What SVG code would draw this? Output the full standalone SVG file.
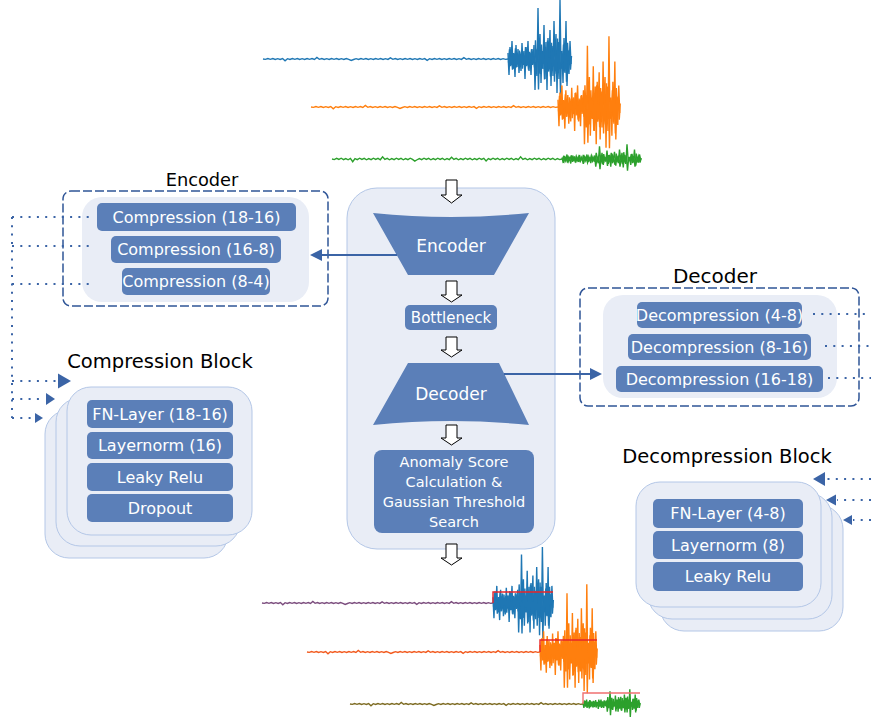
<svg xmlns="http://www.w3.org/2000/svg" xmlns:xlink="http://www.w3.org/1999/xlink" width="871" height="720" viewBox="0 0 871 720">
<style>
.panel{fill:#e9edf6;stroke:#b4c7e7;stroke-width:1}
.inner{fill:#e9edf6}
.box{fill:#5b7fb8}
.wt{fill:#fff;font-family:"DejaVu Sans",sans-serif;font-size:16px;text-anchor:middle}
.lbl{fill:#000;font-family:"DejaVu Sans",sans-serif;text-anchor:middle}
.dash{fill:none;stroke:#2f5597;stroke-width:1.5;stroke-dasharray:9 3}
.dot{fill:none;stroke:#3b64a6;stroke-width:2;stroke-dasharray:2 6.3}
.solid{fill:none;stroke:#3b64a6;stroke-width:2.2}
.head{fill:#3b64a6}
.hollow{fill:#fff;stroke:#000;stroke-width:1}
.wave{fill:none;stroke-width:1.4}
</style>
<defs>
<path id="burst" vector-effect="non-scaling-stroke" fill="none" d="M0,-6 L1,16 2,-12 3,4 4,-18 5,10 6,-2 7,18 8,-14 9,8 10,-10 11,14 12,-4 13,12 14,-16 15,6 16,-8 17,20 18,-12 19,2 20,-18 21,12 22,-6 23,16 24,-10 25,4 26,-14 27,31 28,-4 29,17 30,-51 31,14 32,-25 33,24 34,-8 35,10 36,-34 37,20 38,-17 39,31 40,-21 41,3 42,-29 43,27 44,-13 45,17 46,-38 47,7 48,-25 49,34 50,-17 51,20 52,-59 53,10 54,-8 55,24 56,-21 57,14 58,-38 59,27 60,-3 61,15 62,-18 63,5"/>
<path id="noise" vector-effect="non-scaling-stroke" fill="none" d="M0,0 L1,0.4 2,-0.4 3,0.3 4,-0.5 5,0.4 6,-0.3 7,0.5 8,-0.4 9,1.8 10,-0.3 11,0.4 12,-0.5 13,0.3 14,-0.4 15,0.5 16,-0.3 17,0.4 18,-0.5 19,0.3 20,-0.4 21,0.5 22,-1.5 23,0.3 24,-0.4 25,0.5 26,-0.3 27,0.4 28,-0.5 29,0.3 30,-0.4 31,0.5 32,-0.3 33,0.4 34,-0.5 35,0.3 36,1.4 37,0.5 38,-0.3 39,0.4 40,-0.5 41,0.3 42,-0.4 43,0.5 44,-0.3 45,0.4 46,-0.5 47,0.3 48,-0.4 49,0.5 50,-0.3 51,0.4 52,-1.2 53,0.3 54,-0.4 55,0.5 56,-0.3 57,0.4 58,-0.5 59,0.3 60,-0.4 61,0.5 62,-0.3 63,0.4 64,-0.5 65,0.3 66,-0.4 67,1.3 68,-0.3 69,0.4 70,-0.5 71,0.3 72,-0.4 73,0.5 74,-0.3 75,0.4 76,-0.5 77,0.3 78,-0.4 79,0.5 80,-0.3 81,0.4 82,-1.4 83,0.3 84,-0.4 85,0.5 86,-0.3 87,0.4 88,-0.5 89,0.3 90,-0.4 91,0.5 92,-0.3 93,0.4 94,-0.5 95,0.3 96,-0.4 97,0.5 98,-0.3 99,0.4 100,0"/>
</defs>
<rect width="871" height="720" fill="#fff"/>

<g id="input-signals" class="wave">
<g stroke="#1f77b4">
<use href="#noise" transform="translate(263,59) scale(2.45,1)"/>
<use href="#burst" transform="translate(508,59)"/>
<use href="#burst" transform="translate(508.5,59) scale(1,-0.6)"/>
</g>
<g stroke="#ff7f0e">
<use href="#noise" transform="translate(311,107) scale(2.47,1)"/>
<use href="#burst" transform="translate(558,107) scale(0.98,1.2)"/>
<use href="#burst" transform="translate(558.5,107) scale(0.98,-0.7)"/>
</g>
<g stroke="#2ca02c">
<use href="#noise" transform="translate(332,159) scale(2.3,1.5)"/>
<use href="#burst" transform="translate(562,159) scale(1.25,0.25)"/>
<use href="#burst" transform="translate(562.5,159) scale(1.25,-0.2)"/>
</g>
</g>

<g id="output-signals" class="wave">
<use href="#noise" stroke="#7b4c7d" transform="translate(262,603) scale(2.31,1)"/>
<g stroke="#1f77b4">
<use href="#burst" transform="translate(493,603) scale(0.95,0.95)"/>
<use href="#burst" transform="translate(493.5,603) scale(0.95,-0.6)"/>
</g>
<use href="#noise" stroke="#f25a1e" transform="translate(307,652) scale(2.33,1)"/>
<g stroke="#ff7f0e">
<use href="#burst" transform="translate(540,652) scale(0.9,1.15)"/>
<use href="#burst" transform="translate(540.5,652) scale(0.9,-0.7)"/>
</g>
<use href="#noise" stroke="#7d6b22" transform="translate(350,704) scale(2.33,1)"/>
<g stroke="#2ca02c">
<use href="#burst" transform="translate(583,704) scale(0.9,0.25)"/>
<use href="#burst" transform="translate(583.5,704) scale(0.9,-0.22)"/>
</g>
<path d="M493,603 V592 H553" stroke="#e8262a" stroke-width="1.4" fill="none"/>
<path d="M540,652 V640 H597" stroke="#e8262a" stroke-width="1.4" fill="none"/>
<path d="M583,704 V693 H640" stroke="#f07070" stroke-width="1.4" fill="none"/>
</g>

<g id="pipeline">
<rect class="panel" x="347" y="188" width="208" height="361" rx="30"/>
</g>

<g id="encoder-trapezoid">
<path class="box" d="M373,213 Q451,221 529,213 L494,275 L408,275 Z"/>
<text class="wt" x="451" y="252" style="font-size:17px">Encoder</text>
</g>
<g id="bottleneck">
<rect class="box" x="405" y="305" width="92" height="25" rx="5"/>
<text class="wt" x="451" y="323" style="font-size:15px">Bottleneck</text>
</g>
<g id="decoder-trapezoid">
<path class="box" d="M408,363 L499,363 L529,425 Q451,417 373,425 Z"/>
<text class="wt" x="451" y="400" style="font-size:17px">Decoder</text>
</g>
<g id="anomaly">
<rect class="box" x="374" y="450" width="160" height="83" rx="8"/>
<text class="wt" style="font-size:14.5px"><tspan x="454" y="467">Anomaly Score</tspan><tspan x="454" y="487">Calculation &amp;</tspan><tspan x="454" y="507">Gaussian Threshold</tspan><tspan x="454" y="527">Search</tspan></text>
</g>

<g id="encoder-detail">
<text class="lbl" x="202" y="186" style="font-size:17.8px">Encoder</text>
<rect class="dash" x="63" y="191" width="265" height="115" rx="8"/>
<rect class="inner" x="82" y="197" width="227" height="105" rx="20"/>
<rect class="box" x="97" y="203" width="199" height="28" rx="5"/>
<text class="wt" x="196.5" y="222.5">Compression (18-16)</text>
<rect class="box" x="111" y="236" width="170" height="27" rx="5"/>
<text class="wt" x="196" y="255">Compression (16-8)</text>
<rect class="box" x="122" y="268" width="148" height="27" rx="5"/>
<text class="wt" x="196" y="287">Compression (8-4)</text>
</g>

<g id="decoder-detail">
<text class="lbl" x="715" y="283" style="font-size:20px">Decoder</text>
<rect class="dash" x="580" y="288" width="279" height="118" rx="8"/>
<rect class="inner" x="603" y="295" width="234" height="103" rx="20"/>
<rect class="box" x="637" y="302" width="165" height="26" rx="5"/>
<text class="wt" x="719.5" y="320.5">Decompression (4-8)</text>
<rect class="box" x="628" y="334" width="183" height="26" rx="5"/>
<text class="wt" x="719.5" y="352.5">Decompression (8-16)</text>
<rect class="box" x="616" y="366" width="207" height="26" rx="5"/>
<text class="wt" x="719.5" y="384.5">Decompression (16-18)</text>
</g>

<g id="compression-block">
<text class="lbl" x="160" y="368" style="font-size:19.5px">Compression Block</text>
<rect class="panel" x="45" y="410" width="183" height="148" rx="24"/>
<rect class="panel" x="56" y="398" width="184" height="148" rx="24"/>
<rect class="panel" x="67" y="387" width="185" height="148" rx="24"/>
<rect class="box" x="87" y="400" width="146" height="28" rx="5"/>
<text class="wt" x="160" y="419.5">FN-Layer (18-16)</text>
<rect class="box" x="87" y="432" width="146" height="27" rx="5"/>
<text class="wt" x="160" y="451">Layernorm (16)</text>
<rect class="box" x="87" y="463" width="146" height="28" rx="5"/>
<text class="wt" x="160" y="482.5">Leaky Relu</text>
<rect class="box" x="87" y="494" width="146" height="28" rx="5"/>
<text class="wt" x="160" y="513.5">Dropout</text>
</g>

<g id="decompression-block">
<text class="lbl" x="727" y="463" style="font-size:19.5px">Decompression Block</text>
<rect class="panel" x="660" y="505" width="183" height="126" rx="24"/>
<rect class="panel" x="648" y="493" width="184" height="126" rx="24"/>
<rect class="panel" x="636" y="482" width="185" height="125" rx="24"/>
<rect class="box" x="653" y="499" width="150" height="29" rx="5"/>
<text class="wt" x="728" y="519">FN-Layer (4-8)</text>
<rect class="box" x="653" y="531" width="150" height="28" rx="5"/>
<text class="wt" x="728" y="550.5">Layernorm (8)</text>
<rect class="box" x="653" y="562" width="150" height="29" rx="5"/>
<text class="wt" x="728" y="582">Leaky Relu</text>
</g>

<g id="connectors">
<path class="hollow" d="M446,180 H457 V195 H462 L451.5,203 L441,195 H446 Z"/>
<path class="hollow" d="M446,281 H457 V295 H462 L451.5,302 L441,295 H446 Z"/>
<path class="hollow" d="M446,337 H457 V350 H462 L451.5,357 L441,350 H446 Z"/>
<path class="hollow" d="M446,425 H457 V438 H462 L451.5,445 L441,438 H446 Z"/>
<path class="hollow" d="M446,544 H457 V558 H462 L451.5,565 L441,558 H446 Z"/>
<path class="solid" d="M397,255 H321"/>
<polygon class="head" points="322,249 310,255 322,261"/>
<path class="solid" d="M504,374 H591"/>
<polygon class="head" points="590,368 602,374 590,380"/>
<path class="dot" d="M12,217 V418"/>
<path class="dot" d="M12,217 H92"/>
<path class="dot" d="M12,246 H95"/>
<path class="dot" d="M12,284 H92"/>
<path class="dot" d="M12,381 H57"/>
<polygon class="head" points="58,373.5 71,381 58,388.5"/>
<path class="dot" d="M12,399 H45"/>
<polygon class="head" points="46,393 55,399 46,405"/>
<path class="dot" d="M12,418 H34"/>
<polygon class="head" points="35,413 43,418 35,423"/>
<path class="dot" d="M813,314 H871"/>
<path class="dot" d="M825,346 H871"/>
<path class="dot" d="M828,378 H871"/>
<path class="dot" d="M871,479 H826"/>
<polygon class="head" points="825,472 813,479 825,486"/>
<path class="dot" d="M871,500 H837"/>
<polygon class="head" points="836,494.5 826,500 836,505.5"/>
<path class="dot" d="M871,520 H853"/>
<polygon class="head" points="852,515 843,520 852,525"/>
</g>
</svg>
